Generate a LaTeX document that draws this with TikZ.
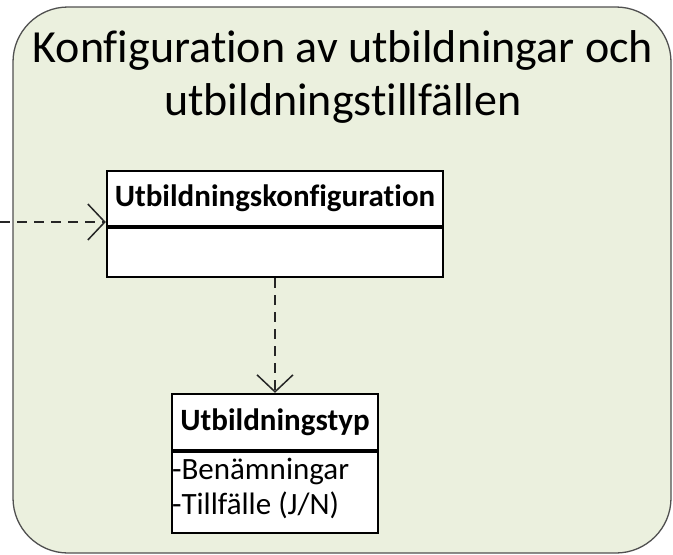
\documentclass[tikz,border=0pt]{standalone}
\usepackage{fontspec}
\setmainfont{Carlito}[Ligatures=NoCommon]
\usetikzlibrary{arrows.meta}
\definecolor{bgfill}{HTML}{EBF0DE}
\definecolor{bgline}{HTML}{505050}
\begin{document}
\begin{tikzpicture}[x=1pt,y=-1pt,
  classhead/.style={draw=black, fill=white, line width=2.3pt, inner sep=0pt, font=\fontsize{31}{36}\selectfont\bfseries},
  classbody/.style={draw=black, fill=white, line width=2.3pt, inner sep=0pt},
  attrs/.style={align=left, inner sep=1pt, font=\fontsize{31}{35}\selectfont},
  dep/.style={draw=black!85, line width=1.5pt, dash pattern=on 10pt off 7pt, -{Straight Barb[length=17pt,width=36pt,line width=1.5pt]}}
]
\useasboundingbox (0,0) rectangle (673,555);
\draw[rounded corners=55pt, fill=bgfill, draw=bgline, line width=1.3pt] (13,7) rectangle (671,553);
\node[align=center, font=\fontsize{46}{53}\selectfont] (title) at (343,77) {Konfiguration av utbildningar och\\utbildningstillfällen};
\node[classhead, minimum width=336pt, minimum height=55pt] (konfh) at (275,198.5) {Utbildningskonfiguration};
\node[classbody, minimum width=336pt, minimum height=49pt, anchor=north] (konfb) at (konfh.south) {};
\node[classhead, minimum width=206pt, minimum height=56pt] (typh) at (275,422) {Utbildningstyp};
\node[classbody, minimum width=206pt, minimum height=81pt, anchor=north] (typb) at (typh.south) {};
\node[attrs, anchor=west] (typattr) at ([yshift=4pt]typb.west) {-Benämningar\\-Tillfälle (J/N)};
\coordinate (lin) at (0,222);
\draw[dep] (lin) -- (lin -| konfh.west);
\draw[dep] (konfb.south) -- (typh.north);
\end{tikzpicture}
\end{document}
